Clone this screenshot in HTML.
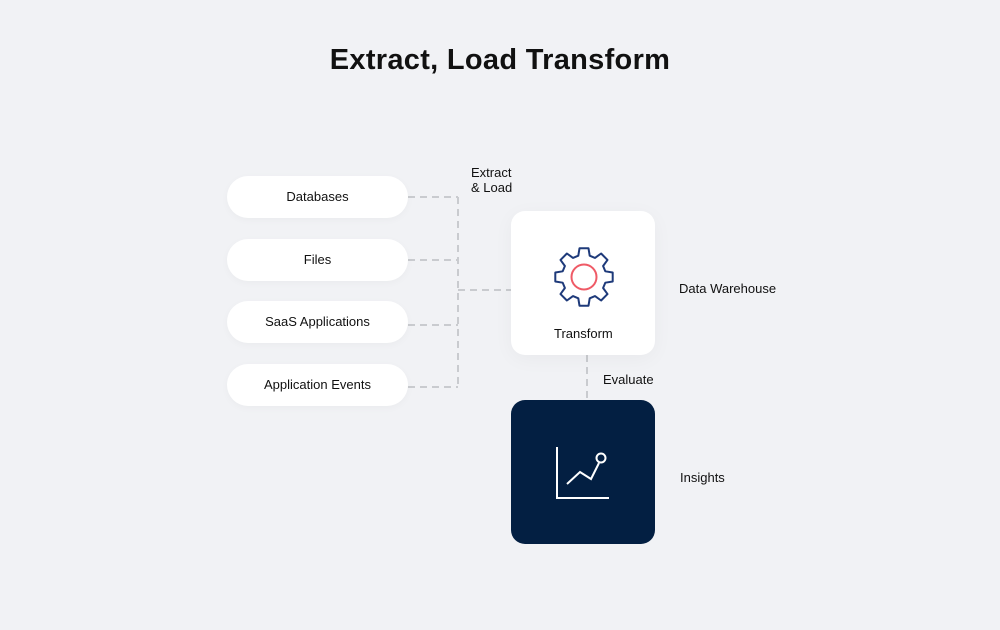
<!DOCTYPE html>
<html><head><style>
body{margin:0;width:1000px;height:630px;background:#f1f2f5;font-family:"Liberation Sans",sans-serif;position:relative;overflow:hidden;color:#111}
.t{position:absolute;left:0;width:1000px;top:44px;text-align:center;font-size:29px;font-weight:bold;letter-spacing:0.3px}
.pill{position:absolute;left:227px;width:181px;height:42px;border-radius:21px;background:#fff;font-size:13px;text-align:center;line-height:42px;box-shadow:0 2px 8px rgba(0,0,0,0.03)}
.box{position:absolute;left:511px;width:144px;height:144px;border-radius:14px}
.l{position:absolute;font-size:13px;line-height:15px}
svg{position:absolute;left:0;top:0}
</style></head><body>
<div class="t">Extract, Load Transform</div>
<svg width="1000" height="630">
<g stroke="#c9cbcf" stroke-width="2" stroke-dasharray="7,5" fill="none">
<path d="M408 197H458M408 260H458M408 325H458M408 387H458M458 197V387M458 290H511M587 355V400"/>
</g>
</svg>
<div class="pill" style="top:176px">Databases</div>
<div class="pill" style="top:239px">Files</div>
<div class="pill" style="top:301px">SaaS Applications</div>
<div class="pill" style="top:364px">Application Events</div>
<div class="l" style="left:471px;top:165px">Extract<br>&amp; Load</div>
<div class="box" style="top:211px;background:#fff;box-shadow:0 4px 20px rgba(0,0,0,0.04)"></div>
<div class="box" style="top:400px;background:#031f42"></div>
<div class="l" style="left:554px;top:326px">Transform</div>
<div class="l" style="left:603px;top:372px">Evaluate</div>
<div class="l" style="left:679px;top:281px">Data Warehouse</div>
<div class="l" style="left:680px;top:470px">Insights</div>
<svg width="1000" height="630">
<g transform="translate(584,277)">
<polygon fill="none" stroke="#1e3a7a" stroke-width="2" stroke-linejoin="round" points="-5.7,-21.3 -4.5,-28.7 4.5,-28.7 5.7,-21.3 11,-19.1 17.1,-23.5 23.5,-17.1 19.1,-11 21.3,-5.7 28.7,-4.5 28.7,4.5 21.3,5.7 19.1,11 23.5,17.1 17.1,23.5 11,19.1 5.7,21.3 4.5,28.7 -4.5,28.7 -5.7,21.3 -11,19.1 -17.1,23.5 -23.5,17.1 -19.1,11 -21.3,5.7 -28.7,4.5 -28.7,-4.5 -21.3,-5.7 -19.1,-11 -23.5,-17.1 -17.1,-23.5 -11,-19.1"/>
<circle r="12.5" fill="none" stroke="#ef5a66" stroke-width="2"/>
</g>
<g stroke="#fff" stroke-width="2" fill="none">
<path d="M557 447V498H609"/>
<path d="M567 484L580 472L591 479L599 463"/>
<circle cx="601" cy="458" r="4.5"/>
</g>
</svg>
</body></html>
